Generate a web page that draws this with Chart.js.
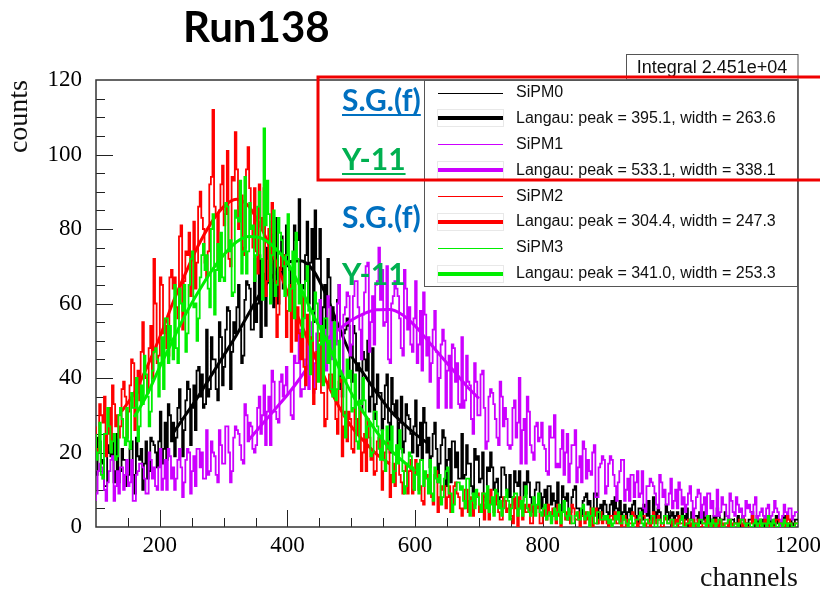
<!DOCTYPE html>
<html>
<head>
<meta charset="utf-8">
<script src="https://cdn.jsdelivr.net/npm/chart.js@4.4.0/dist/chart.umd.min.js"></script>
<style>
  html, body { margin: 0; padding: 0; background: #fff; }
  #wrap { position: relative; width: 820px; height: 593px; }
</style>
</head>
<body>
<div id="wrap"><canvas id="spectra" width="820" height="593"></canvas></div>
<script>
// binning of the four spectra (channels)
const binStart = 100;
const binWidth = 2.5;
const xTicks = [200, 400, 600, 800, 1000, 1200];
const yTicks = [0, 20, 40, 60, 80, 100, 120];

const seriesNames = ["SiPM0", "SiPM1", "SiPM2", "SiPM3"];
const fitPeak = [395.1, 533.1, 304.4, 341.0];
const fitWidth = [263.6, 338.1, 247.3, 253.3];
const integralText = "2.451e+04";

// counts per bin, one line = 100 channels
const sipm0Counts = [
  15,14,24,23,17,18,11,11,22,20,19,25,12,15,25,12,15,21,18,18,11,14,21,23,14,9,24,19,18,21,10,17,23,13,15,24,23,22,20,16,
  23,31,17,21,28,18,33,30,23,28,19,24,32,37,29,19,26,34,39,37,22,32,38,26,42,43,35,41,32,33,53,35,37,51,45,45,37,34,55,51,
  38,43,53,59,58,37,47,55,52,59,65,53,44,46,61,66,65,64,53,53,72,55,60,73,51,66,68,54,75,72,72,82,59,66,83,60,68,78,64,73,
  81,70,69,60,58,81,77,77,88,64,65,64,73,82,60,71,80,55,85,72,72,80,52,59,65,50,72,67,49,59,54,50,61,65,37,35,52,53,56,54,
  41,39,54,52,42,44,32,31,47,45,42,50,31,35,48,29,33,41,36,36,26,29,38,41,28,20,40,33,30,34,20,28,35,20,23,33,30,29,25,20,
  27,34,19,22,28,18,32,28,20,24,16,19,25,28,21,12,17,22,26,24,11,18,21,12,23,23,16,20,13,13,25,13,14,22,17,17,11,9,21,18,
  19,12,13,20,8,7,16,15,20,16,10,12,13,7,8,16,16,14,10,8,14,8,6,15,12,11,15,5,7,12,9,15,12,8,4,6,10,12,12,9,
  5,8,10,4,11,11,6,9,7,5,12,5,3,11,8,7,9,2,4,8,10,11,5,5,2,3,7,8,9,6,7,4,3,9,9,1,5,6,3,7,
  6,4,3,6,7,3,8,5,4,7,2,4,6,2,4,5,3,6,7,3,0,5,5,2,6,4,3,7,2,3,8,4,2,5,4,1,1,3,6,4,
  2,3,4,1,3,4,1,2,5,3,2,5,0,2,4,1,3,3,2,4,1,2,4,1,2,3,0,2,3,0,5,3,1,2,2,4,3,1,1,2,
  2,1,1,3,0,2,3,1,1,0,2,2,4,1,0,3,1,2,2,0,3,1,0,2,1,0,2,3,1,1,0,2,3,1,1,0,2,1,0,2
];
const sipm1Counts = [
  7,9,15,17,16,13,10,7,12,15,18,19,7,11,15,9,16,16,10,14,18,11,12,18,7,7,14,15,17,17,16,13,9,9,20,18,13,16,11,10,
  16,21,10,13,18,10,21,19,13,16,10,13,18,21,16,8,12,18,21,20,9,15,19,11,21,21,16,20,13,13,26,14,15,23,20,19,14,12,26,22,
  17,17,27,27,20,12,15,24,27,26,25,22,18,17,33,30,23,28,27,21,20,22,32,35,25,30,38,22,31,35,22,42,39,31,29,28,39,41,35,38,
  43,36,36,30,29,46,44,44,53,35,37,37,45,52,37,47,55,36,44,52,54,61,39,47,53,42,62,59,45,55,51,49,60,65,41,41,57,59,63,62,
  46,49,62,66,66,59,53,45,57,63,70,71,47,55,62,49,65,66,75,61,69,54,55,70,45,44,60,62,66,64,62,56,48,46,69,64,53,59,49,47,
  56,66,44,49,58,42,63,57,46,51,39,44,53,58,47,32,40,49,53,50,32,42,46,32,49,48,39,44,33,32,51,32,34,46,39,38,29,25,44,39,
  30,30,41,42,32,21,23,35,37,36,33,29,24,22,39,35,27,32,29,22,21,22,32,34,24,28,40,17,26,29,17,35,31,22,20,18,27,28,23,24,
  28,22,21,15,14,27,24,24,30,16,17,16,21,26,14,20,25,12,17,22,22,26,12,16,19,12,23,21,13,18,15,14,20,22,8,8,16,17,19,18,
  9,11,17,19,18,14,11,7,12,15,18,18,7,10,13,7,14,14,8,12,15,8,9,15,5,4,11,11,13,12,11,9,6,5,14,12,8,10,6,6,
  9,13,5,7,10,5,12,10,6,8,4,6,9,11,7,2,5,8,10,9,2,6,8,3,9,9,5,7,3,3,10,3,4,8,6,6,3,2,9,7,
  4,3,8,6,4,5,2,3,7,5,6,4,2,6,8,2,3,4,5,3,1,5,6,2,3,4,7,5,4,2,0,3,6,4,2,5,5,2,3,4
];
const sipm2Counts = [
  27,21,20,33,30,28,35,19,25,32,21,38,33,27,30,24,27,37,39,35,24,31,38,45,44,26,36,42,34,47,55,42,40,36,48,54,40,72,60,44,
  46,67,65,52,54,48,46,67,69,64,67,59,56,78,81,53,66,74,73,79,62,72,82,64,71,86,90,83,80,71,67,74,92,94,112,86,84,70,85,92,
  97,81,84,101,72,70,94,93,106,96,80,86,89,73,75,96,102,91,80,75,91,74,68,92,83,80,91,62,66,80,71,87,79,66,51,57,69,73,73,64,
  51,58,65,47,66,65,50,59,52,45,62,43,38,57,51,47,51,33,37,47,50,52,36,36,27,29,38,41,41,36,37,29,25,39,40,19,27,31,23,31,
  29,21,20,32,29,25,32,15,20,25,15,29,24,18,20,14,15,23,24,19,10,15,20,23,21,8,14,17,11,18,22,14,12,9,15,17,9,15,18,9,
  10,18,16,10,11,7,6,14,14,11,12,8,6,14,15,4,8,11,10,11,5,8,11,4,6,11,12,9,8,5,3,5,10,10,4,7,8,3,6,8,
  9,4,6,9,2,6,7,2,10,7,4,9,6,4,2,2,8,7,4,5,6,3,1,8,5,0,8,5,2,6,4,4,6,1,1,6,4,5,6,1,
  1,3,5,2,6,4,2,5,3,1,6,3,0,4,4,2,4,3,1,6,5,2,2,4,0,3,3,1,4,2,3,5,0,3,5,1,2,4,1,2,
  2,1,0,3,3,2,4,1,1,3,0,2,3,0,2,1,1,4,3,2,0,1,2,3,3,0,1,2,0,1,4,2,1,3,2,0,0,2,3,1,
  1,2,0,1,2,0,3,1,1,2,0,1,2,0,1,2,0,1,2,0,0,1,1,2,3,0,1,1,0,2,1,0,2,1,0,1,1,0,2,1,
  0,1,1,0,2,1,0,2,1,0,0,1,3,1,1,0,0,2,1,1,2,0,0,1,1,0,0,2,2,1,1,0,0,1,3,2,1,0,0,1
];
const sipm3Counts = [
  25,18,20,28,14,13,25,25,32,27,20,23,25,18,19,30,32,29,24,22,32,23,21,36,32,32,40,23,27,38,33,46,41,35,27,31,42,47,48,45,
  35,44,51,37,56,56,44,54,50,45,65,48,44,64,60,58,65,47,52,65,72,74,59,60,50,56,67,73,76,69,73,64,59,80,84,57,69,76,66,79,
  67,66,87,86,74,77,62,63,85,83,82,93,68,74,94,68,74,87,80,81,66,73,86,90,72,61,107,81,93,84,60,73,85,62,65,83,79,77,70,62,
  73,84,58,64,74,56,79,72,60,65,51,56,66,70,58,41,50,58,63,60,39,49,54,38,56,56,44,50,37,35,55,34,37,50,41,40,30,24,45,40,
  42,31,32,41,23,21,34,33,40,34,24,27,28,19,20,31,31,27,21,18,26,18,15,27,23,21,27,12,15,22,17,26,21,15,9,11,17,20,19,16,
  10,14,17,9,18,18,11,15,13,9,18,9,7,16,13,12,14,6,8,13,15,16,9,9,4,6,10,12,12,10,11,7,5,13,13,3,7,9,5,10,
  8,6,4,9,9,5,11,4,6,8,3,10,9,5,7,3,5,8,10,7,2,5,8,9,9,3,5,7,3,8,11,5,4,3,6,8,3,6,9,4,
  3,5,6,2,3,4,1,3,5,2,4,6,1,4,7,3,2,5,3,1,1,3,4,2,2,5,6,2,3,4,0,3,5,1,1,4,4,2,2,3,
  2,3,1,2,0,1,3,2,4,1,1,3,2,1,0,2,3,0,1,2,2,3,4,1,0,2,2,1,1,3,3,0,0,2,2,1,1,3,3,1,
  1,2,2,0,0,1,1,2,3,0,0,1,1,2,2,0,1,1,0,2,2,1,1,0,3,1,0,2,1,0,1,2,2,0,0,1,1,2,2,0,
  0,1,1,0,1,2,2,1,0,1,1,0,0,1,2,0,1,2,0,1,1,0,3,1,0,2,1,0,0,1,1,0,2,1,0,1,1,0,0,1
];

// Langau fit curves, sampled over each fit range
const sipm0FitCh = [220,240,260,280,300,320,340,360,380,400,420,440,460,480,500,520,540,560,580,600,620];
const sipm0Fit   = [25,30,35,40.5,46,51.5,57.5,63.5,68,71,71.5,69,62.5,54,46,41,36,31.5,28,25,22.5];
const sipm1FitCh = [340,360,380,400,420,440,460,480,500,520,540,560,580,600,620,640,660,680,700];
const sipm1Fit   = [23.5,27.5,31.5,35.5,40,45,50,53,55.5,57.3,58.3,58.4,57,54,50,46,42,38,34.5];
const sipm2FitCh = [140,160,180,200,220,240,260,280,300,320,340,360,380,400,420,440,460,480,500,520,540,560];
const sipm2Fit   = [31,36,43,51,60,68,75.5,81.5,86,88,86,80,72,63,55,47,39.5,32.5,27,23,19.5,17];
const sipm3FitCh = [160,180,200,220,240,260,280,300,320,340,360,380,400,420,440,460,480,500,520,540,560,580,600];
const sipm3Fit   = [29.5,35.5,43,50,57,63,68.5,73,76.5,78,77.5,75,71,64.5,57,50.5,43,36,30.5,25.5,21,17.8,15];

const colors = ["#000000", "#cc00ff", "#ff0000", "#00ee00"];

function histPoints(counts) {
  const pts = counts.map((c, i) => ({ x: binStart + i * binWidth, y: c }));
  pts.push({ x: binStart + counts.length * binWidth, y: counts[counts.length - 1] });
  return pts;
}
function fitPoints(ch, vals) {
  return ch.map((c, i) => ({ x: c, y: vals[i] }));
}

const hists = [sipm0Counts, sipm1Counts, sipm2Counts, sipm3Counts];
const fits = [[sipm0FitCh, sipm0Fit], [sipm1FitCh, sipm1Fit], [sipm2FitCh, sipm2Fit], [sipm3FitCh, sipm3Fit]];

// drawn like ROOT: hist0, fit0, hist1, fit1 ... last one on top
const datasets = [];
for (let i = 0; i < 4; i++) {
  datasets.push({
    label: seriesNames[i],
    data: histPoints(hists[i]),
    borderColor: colors[i],
    borderWidth: 1.8,
    stepped: "after",
    pointRadius: 0,
    fill: false
  });
  datasets.push({
    label: "Langau " + seriesNames[i],
    data: fitPoints(fits[i][0], fits[i][1]),
    borderColor: colors[i],
    borderWidth: 3,
    cubicInterpolationMode: "monotone",
    pointRadius: 0,
    fill: false
  });
}
datasets.forEach((d, i) => { d.order = datasets.length - i; });

const serif = "Liberation Serif";
const sans = "Liberation Sans";

// frame and inward tick marks, ROOT style
const axesPlugin = {
  id: "rootAxes",
  beforeDatasetsDraw(chart) {
    const { ctx, chartArea: a, scales: { x, y } } = chart;
    ctx.save();
    ctx.strokeStyle = "#222";
    ctx.lineWidth = 1;
    for (let v = 150; v < 1200; v += 50) {
      const px = Math.round(x.getPixelForValue(v)) + 0.5;
      const len = v % 200 === 0 ? 17 : 9;
      ctx.beginPath(); ctx.moveTo(px, a.bottom); ctx.lineTo(px, a.bottom - len); ctx.stroke();
    }
    for (let v = 5; v < 120; v += 5) {
      const py = Math.round(y.getPixelForValue(v)) + 0.5;
      const len = v % 20 === 0 ? 17 : 9;
      ctx.beginPath(); ctx.moveTo(a.left, py); ctx.lineTo(a.left + len, py); ctx.stroke();
    }
    ctx.lineWidth = 1.5;
    ctx.strokeStyle = "#333";
    ctx.strokeRect(a.left, a.top, a.right - a.left, a.bottom - a.top);
    ctx.restore();
  }
};

// titles, stats box, legend and the slide annotations on top
const overlayPlugin = {
  id: "overlay",
  afterDraw(chart) {
    const { ctx, chartArea: a } = chart;
    ctx.save();

    ctx.fillStyle = "#000";
    ctx.font = "bold 42px Lato";
    ctx.textBaseline = "alphabetic";
    ctx.textAlign = "left";
    ctx.fillText("Run138", 183, 42);

    // axis titles
    ctx.font = "28px '" + serif + "'";
    ctx.fillStyle = "#111";
    ctx.textAlign = "right";
    ctx.fillText("channels", 798, 586);
    ctx.save();
    ctx.translate(27, 80);
    ctx.rotate(-Math.PI / 2);
    ctx.textAlign = "right";
    ctx.fillText("counts", 0, 0);
    ctx.restore();

    // stats box
    ctx.fillStyle = "#fff";
    ctx.fillRect(626, 54, a.right - 626, 25);
    ctx.strokeStyle = "#555";
    ctx.lineWidth = 1;
    ctx.strokeRect(626.5, 54.5, a.right - 626.5, 25);
    ctx.fillStyle = "#111";
    ctx.font = "18px '" + sans + "'";
    ctx.textAlign = "center";
    ctx.fillText("Integral " + integralText, (626 + a.right) / 2, 73);

    // legend
    const lx = 424, ly = a.top, lw = a.right - 424, lh = 287 - a.top;
    ctx.fillStyle = "#fff";
    ctx.fillRect(lx, ly, lw, lh);
    ctx.strokeStyle = "#555";
    ctx.strokeRect(lx + 0.5, ly + 0.5, lw - 1, lh - 1);
    ctx.font = "16px '" + sans + "'";
    ctx.textAlign = "left";
    ctx.textBaseline = "middle";
    for (let i = 0; i < 4; i++) {
      const yh = 92.5 + i * 51.8;
      const yf = yh + 25.9;
      ctx.strokeStyle = colors[i];
      ctx.lineWidth = 1;
      ctx.beginPath(); ctx.moveTo(438, Math.round(yh) + 0.5); ctx.lineTo(503, Math.round(yh) + 0.5); ctx.stroke();
      ctx.strokeStyle = "#e8e8e8";
      ctx.lineWidth = 1;
      ctx.strokeRect(437.5, Math.round(yf) - 8.5, 66, 17);
      ctx.strokeStyle = colors[i];
      ctx.lineWidth = 4;
      ctx.beginPath(); ctx.moveTo(438, Math.round(yf)); ctx.lineTo(503, Math.round(yf)); ctx.stroke();
      ctx.fillStyle = "#111";
      ctx.fillText(seriesNames[i], 516, yh);
      ctx.fillText("Langau: peak = " + fitPeak[i].toFixed(1) + ", width = " + fitWidth[i].toFixed(1), 516, yf);
    }

    // slide annotations
    ctx.textBaseline = "alphabetic";
    ctx.font = "bold 30px Lato";
    const notes = [
      ["S.G.(f)", "#0070c0", 111, true],
      ["Y-11", "#00b050", 170, true],
      ["S.G.(f)", "#0070c0", 228, false],
      ["Y-11", "#00b050", 285, false]
    ];
    notes.forEach(([t, c, by, ul]) => {
      ctx.fillStyle = c;
      ctx.fillText(t, 342, by);
      if (ul) ctx.fillRect(342, by + 3, ctx.measureText(t).width, 2);
    });
    ctx.strokeStyle = "#f00000";
    ctx.lineWidth = 3;
    ctx.strokeRect(318, 77, 540, 103);
    ctx.restore();
  }
};

new Chart(document.getElementById("spectra").getContext("2d"), {
  type: "line",
  data: { datasets: datasets },
  options: {
    responsive: false,
    animation: false,
    devicePixelRatio: 1,
    layout: { padding: { top: 80, right: 22, bottom: 0, left: 0 } },
    plugins: { legend: { display: false }, tooltip: { enabled: false } },
    scales: {
      x: {
        type: "linear",
        min: 100,
        max: 1200,
        grid: { display: false },
        border: { display: false },
        afterBuildTicks: (s) => { s.ticks = xTicks.map(v => ({ value: v })); },
        afterFit: (s) => { s.height = 66; s.paddingLeft = 0; s.paddingRight = 0; },
        ticks: {
          color: "#000", padding: -3, maxRotation: 0, autoSkip: false,
          font: { family: serif, size: 23 },
          callback: (v) => String(v)
        }
      },
      y: {
        min: 0,
        max: 120,
        grid: { display: false },
        border: { display: false },
        afterBuildTicks: (s) => { s.ticks = yTicks.map(v => ({ value: v })); },
        afterFit: (s) => { s.width = 96; s.paddingTop = 0; s.paddingBottom = 0; },
        ticks: { color: "#000", padding: 6, font: { family: serif, size: 23 }, callback: (v) => String(v) }
      }
    }
  },
  plugins: [axesPlugin, overlayPlugin]
});
</script>
</body>
</html>
